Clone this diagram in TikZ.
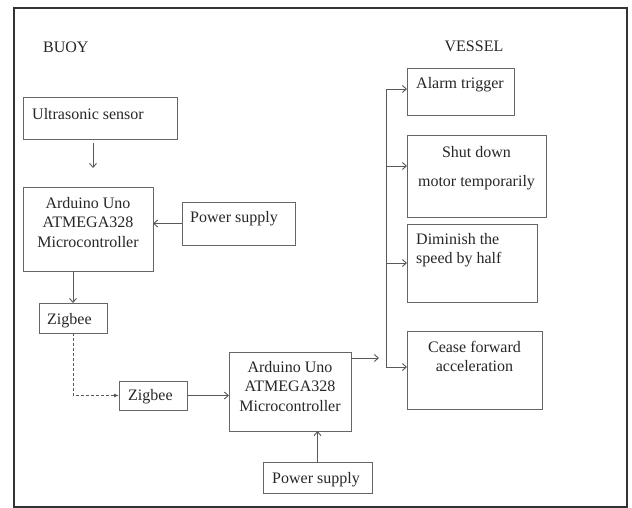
\documentclass[tikz,border=0pt]{standalone}
\usepackage{fontspec}
\setmainfont{Liberation Serif}
\usetikzlibrary{arrows.meta,positioning,calc}
\tikzset{
  basic/.style    = {draw=black!60, line width=0.9pt, rectangle, inner sep=0pt,
                     outer sep=0pt, anchor=north west},
  boxtext/.style  = {inner sep=0pt, anchor=north west, text=black!85, align=left,
                     font=\fontsize{16}{19.5}\selectfont},
  boxtextc/.style = {boxtext, anchor=north, align=center},
  wire/.style     = {draw=black!65, line width=0.9pt}
}

\begin{document}
\begin{tikzpicture}[x=1pt, y=-1pt, >={Straight Barb[length=4pt,width=7pt]}]
\useasboundingbox (0,0) rectangle (632,508);

% outer frame
\draw[black!80, line width=2pt] (14,8) rectangle (627,507);

% headings
\node[boxtext]  (buoy)   at (43,42)  {BUOY};
\node[boxtextc] (vessel) at (474,41) {VESSEL};

% buoy side
\node[basic, minimum width=154pt, minimum height=42pt] (sensor) at (23,97)  {};
\node[basic, minimum width=130pt, minimum height=84pt] (ard1)   at (23,187) {};
\node[basic, minimum width=113pt, minimum height=43pt] (ps1)    at (182,202) {};
\node[basic, minimum width=68pt,  minimum height=30pt] (zig1)   at (39,303) {};

% vessel side
\node[basic, minimum width=68pt,  minimum height=29pt] (zig2)   at (119,381) {};
\node[basic, minimum width=122pt, minimum height=79pt] (ard2)   at (229,352) {};
\node[basic, minimum width=109pt, minimum height=31pt] (ps2)    at (263,462) {};

% actions
\node[basic, minimum width=107pt, minimum height=47pt] (alarm)  at (407,68)  {};
\node[basic, minimum width=139pt, minimum height=82pt] (shut)   at (407,135) {};
\node[basic, minimum width=130pt, minimum height=78pt] (dim)    at (407,224) {};
\node[basic, minimum width=135pt, minimum height=78pt] (cease)  at (407,331) {};

% texts inside the boxes
\node[boxtext]  (sensor-t) at ([shift={(9,11)}]sensor.north west) {Ultrasonic sensor};
\node[boxtextc] (ard1-t)   at ([shift={(0,10)}]ard1.north) {Arduino Uno\\ATMEGA328\\Microcontroller};
\node[boxtext]  (ps1-t)    at ([shift={(8,9)}]ps1.north west) {Power supply};
\node[boxtext]  (zig1-t)   at ([shift={(8,10)}]zig1.north west) {Zigbee};
\node[boxtext]  (zig2-t)   at ([shift={(9,8)}]zig2.north west) {Zigbee};
\node[boxtextc] (ard2-t)   at ([shift={(0,9)}]ard2.north) {Arduino Uno\\ATMEGA328\\Microcontroller};
\node[boxtext]  (ps2-t)    at ([shift={(9,10)}]ps2.north west) {Power supply};
\node[boxtext]  (alarm-t)  at ([shift={(9,9)}]alarm.north west) {Alarm trigger};
\node[boxtextc] (shut-t)   at ([shift={(0,11)}]shut.north) {Shut down\\[10pt]motor temporarily};
\node[boxtext]  (dim-t)    at ([shift={(9,9)}]dim.north west) {Diminish the\\speed by half};
\node[boxtextc] (cease-t)  at ([shift={(0,10)}]cease.north) {Cease forward\\acceleration};

% connectors on the buoy
\coordinate (s-x) at (93,0);
\draw[wire,->,shorten <=4pt,shorten >=19pt] (sensor.south -| s-x) -- (ard1.north -| s-x);
\draw[wire,->] (ps1.west) -- (ps1.west -| ard1.east);
\draw[wire,->] (ard1.south -| zig1.north) -- (zig1.north);

% radio link
\draw[wire, dash pattern=on 3pt off 2pt, -{Latex[length=5pt,width=4pt]}]
  (zig1.south) |- (zig2.west);

% connectors on the vessel
\draw[wire,->] (zig2.east) -- (zig2.east -| ard2.west);
\draw[wire,->] (ps2.north) -- (ps2.north |- ard2.south);
\coordinate (split) at (379,358);
\draw[wire,->] (ard2.east |- split) -- (split);

% bus to every action
\coordinate (bus-alarm) at (386,89);
\coordinate (bus-shut)  at (386,166);
\coordinate (bus-dim)   at (386,263);
\coordinate (bus-cease) at (386,367);
\draw[wire] (bus-alarm) -- (bus-cease);
\foreach \b in {alarm,shut,dim,cease}
  \draw[wire,->] (bus-\b) -- (bus-\b -| \b.west);
\end{tikzpicture}
\end{document}
